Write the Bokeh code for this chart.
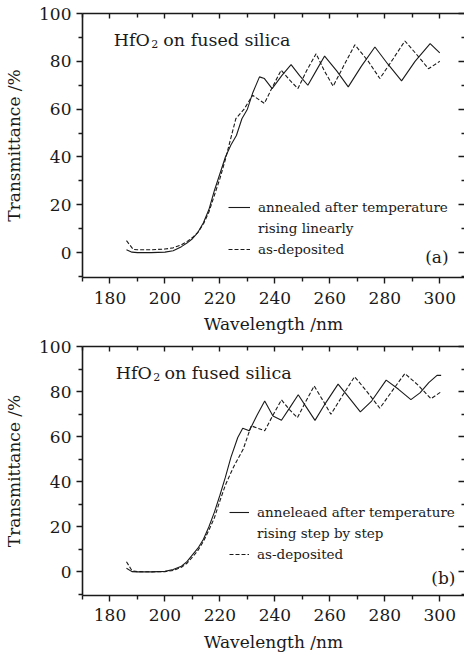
from bokeh.plotting import figure
from bokeh.layouts import column
from bokeh.models import LinearAxis, FixedTicker, Range1d, Legend, LegendItem, Label
from bokeh.embed import file_html
from bokeh.resources import INLINE

# ---------------- data ----------------
# (a) annealed after temperature rising linearly
wl_a_ann = [186, 188, 190, 195, 200, 203, 206, 208, 210, 212, 214, 216, 218, 220, 222, 224,
            226, 228, 230, 232, 234.4, 236.2, 239, 242.5, 245.9, 249, 252, 255, 258.1, 262.5,
            266.7, 271.5, 276.4, 281, 286.1, 291, 296.5, 300]
tr_a_ann = [1.2, 0.2, 0, 0, 0.2, 0.8, 2.5, 4, 5.8, 8.5, 12.5, 18, 26, 33, 40, 45,
            49, 56, 60, 67, 73.5, 72.8, 68.6, 74, 78.6, 74, 70, 76, 82.2, 76,
            69.3, 78, 86, 79, 71.8, 80, 87.4, 83.5]
# (a) as-deposited
wl_a_dep = [186, 188.5, 190, 195, 200, 203, 206, 208, 210, 212, 214, 216, 218, 220, 222, 224,
            225.8, 228.8, 231.9, 236.2, 239, 242.3, 245.5, 248.4, 251.5, 255, 258, 261.2, 265,
            269.1, 274, 278.2, 283, 287.3, 291.5, 295.9, 300]
tr_a_dep = [5, 1.3, 1.2, 1.2, 1.5, 2, 3.3, 4.6, 6.3, 8.5, 12, 17, 24, 31, 39, 48,
            56, 60, 65.8, 62.4, 69, 76.3, 72, 68.6, 76, 83.2, 76, 69.6, 78,
            86.9, 80, 72.8, 81, 88.5, 83, 76.9, 80]
# (b) annealed after temperature rising step by step
wl_b_ann = [186, 188, 190, 195, 200, 203, 206, 208, 210, 212, 214, 216, 218, 220, 222, 224,
            226.5, 228.3, 230.7, 233.5, 236.3, 239.3, 242.4, 245.5, 248.5, 251.5, 254.6, 258.5,
            263, 265.6, 268.5, 271.1, 275.2, 280.5, 285, 289.5, 292.8, 296, 299, 300.5]
tr_b_ann = [1.6, 0.1, 0, 0, 0.2, 1, 2.5, 4.5, 7.5, 10.5, 14.5, 20, 26.5, 34, 42, 50.8,
            59.6, 63.7, 62.6, 69.5, 75.8, 69.2, 67.3, 73, 78.6, 73, 67.2, 75,
            83.3, 79.4, 75, 71, 75.8, 85.1, 81, 76.4, 79.4, 84, 87.2, 87.2]
# (b) as-deposited
wl_b_dep = [186, 188, 190, 195, 200, 203, 206, 208, 210, 212, 214, 216, 218, 220, 222, 224,
            225.2, 228.5, 231.4, 236.3, 239.3, 242.4, 245.3, 248.2, 251, 254.3, 257.5, 260.4,
            264.5, 269, 273.5, 278.2, 282.5, 287.3, 292, 296.8, 300.5]
tr_b_dep = [4.5, 0.5, 0.1, 0, 0.1, 0.6, 2, 3.8, 6.5, 9.5, 13.5, 18.5, 24, 31.5, 38.5, 44,
            47.1, 54.5, 64.8, 62.6, 69.5, 76.3, 72, 68.4, 75, 82.5, 76, 69.9,
            78, 86.6, 80, 72.6, 80, 88, 83, 76.8, 79.9]

x_ticks = [180, 200, 220, 240, 260, 280, 300]
x_minor = [170, 190, 210, 230, 250, 270, 290]
y_ticks = [0, 20, 40, 60, 80, 100]
y_minor = [-10, 10, 30, 50, 70, 90]

FONT = "DejaVu Serif"
INK = "#1a1a1a"


def style_axis(ax, tick_in, tick_out, minor_in, minor_out, labels=True, line=True):
    ax.major_tick_in = tick_in
    ax.major_tick_out = tick_out
    ax.minor_tick_in = minor_in
    ax.minor_tick_out = minor_out
    ax.axis_line_width = 1.6
    ax.axis_line_color = INK if line else None
    ax.major_tick_line_width = 1.4
    ax.minor_tick_line_width = 1.4
    ax.major_tick_line_color = INK
    ax.minor_tick_line_color = INK
    ax.major_label_text_font = FONT
    ax.major_label_text_color = INK if labels else None
    ax.major_label_text_font_size = "17px" if labels else "1px"
    if not labels:
        ax.major_label_standoff = 0
    ax.axis_label_text_font = FONT
    ax.axis_label_text_font_size = "17px"
    ax.axis_label_text_font_style = "normal"
    ax.axis_label_text_color = INK


def make_panel(wl1, tr1, wl2, tr2, height, ymin, b_top, b_bottom, lbl_standoff, axlbl_standoff,
               legend_lines, legend_loc, glyph_w, tag, tag_xy, hf_y, hf_x):
    p = figure(width=464, height=height,
               x_range=Range1d(170, 309), y_range=Range1d(ymin, 100),
               output_backend="svg", toolbar_location=None,
               min_border_left=82, min_border_right=0,
               min_border_top=b_top, min_border_bottom=b_bottom)
    p.outline_line_color = None
    p.xgrid.grid_line_color = None
    p.ygrid.grid_line_color = None
    p.background_fill_color = "white"

    xt = FixedTicker(ticks=x_ticks, minor_ticks=x_minor)
    yt = FixedTicker(ticks=y_ticks, minor_ticks=y_minor)

    xa = p.xaxis[0]
    xa.ticker = xt
    xa.axis_label = "Wavelength /nm"
    style_axis(xa, 0, 6, 0, 4)
    xa.major_label_standoff = lbl_standoff
    xa.axis_label_standoff = axlbl_standoff

    ya = p.yaxis[0]
    ya.ticker = yt
    ya.axis_label = "Transmittance /%"
    style_axis(ya, 0, 6, 0, 4)
    ya.major_label_standoff = 5
    ya.axis_label_standoff = 12

    top = LinearAxis(ticker=xt)
    style_axis(top, 5, 0, 4, 0, labels=False)
    p.add_layout(top, "above")

    right = LinearAxis(ticker=yt)
    style_axis(right, 6, 0, 3, 0, labels=False, line=False)
    p.add_layout(right, "right")

    r1 = p.line(wl1, tr1, line_color=INK, line_width=1.1)
    r2 = p.line(wl2, tr2, line_color=INK, line_width=1.1, line_dash="4 2")
    dummy = p.line(x=[], y=[], line_alpha=0)

    legend = Legend(items=[LegendItem(label=legend_lines[0], renderers=[r1]),
                           LegendItem(label=legend_lines[1], renderers=[dummy]),
                           LegendItem(label=legend_lines[2], renderers=[r2])],
                    location=legend_loc)
    legend.border_line_color = None
    legend.background_fill_alpha = 0
    legend.padding = 0
    legend.margin = 0
    legend.spacing = 1
    legend.glyph_width = glyph_w
    legend.glyph_height = 20
    legend.label_height = 20
    legend.label_standoff = 8
    legend.label_text_font = FONT
    legend.label_text_font_size = "13.5px"
    legend.label_text_color = INK
    legend.label_text_baseline = "middle"
    p.add_layout(legend)

    common = dict(text_font=FONT, text_color=INK, text_baseline="alphabetic")
    p.add_layout(Label(x=hf_x[0], y=hf_y, text="HfO", text_font_size="17.5px", **common))
    p.add_layout(Label(x=hf_x[1], y=hf_y - 1.7, text="2", text_font_size="11px", **common))
    p.add_layout(Label(x=hf_x[2], y=hf_y, text="on fused silica", text_font_size="17.5px", **common))
    p.add_layout(Label(x=tag_xy[0], y=tag_xy[1], text=tag, text_font_size="17px",
                       text_align="right", **common))
    return p


pa = make_panel(wl_a_ann, tr_a_ann, wl_a_dep, tr_a_dep, 336, -10.4, 13, 58, 8, 7,
                ["annealed after temperature", "rising linearly", "as-deposited"],
                (146, 18), 22, "(a)", (303.2, -2.0), 88.9, (181.4, 195.0, 199.4))
pb = make_panel(wl_b_ann, tr_b_ann, wl_b_dep, tr_b_dep, 318, -10.5, 10, 58, 7, 8,
                ["anneleaed after temperature", "rising step by step", "as-deposited"],
                (147, 31), 20, "(b)", (305.7, -2.7), 88.1, (182.1, 195.7, 199.8))

layout = column(pa, pb, spacing=0)
open("out.html", "w").write(file_html(layout, INLINE))
